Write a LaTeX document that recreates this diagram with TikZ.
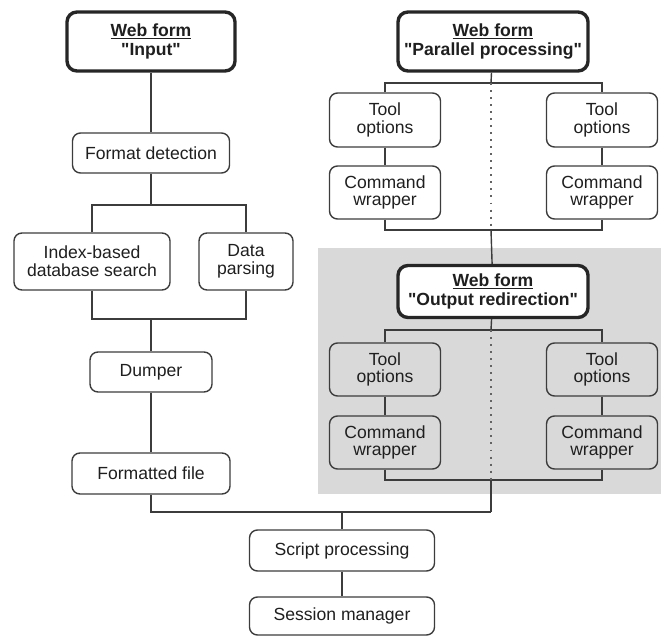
\documentclass[tikz,border=0pt]{standalone}
\usepackage{fontspec}
\setmainfont{Liberation Sans}
\definecolor{lineGray}{HTML}{3C3C3C}
\definecolor{panelGray}{HTML}{D9D9D9}
\tikzstyle{plainBox}=[shape = rectangle, rounded corners = 0.2cm, draw = lineGray, line width = 1pt, fill = white, align = center, inner sep = 0pt, text = black!88, font = \fontsize{12.5}{12.6}\selectfont]
\tikzstyle{webForm}=[plainBox, line width = 2.4pt, rounded corners = 0.25cm, draw = black!85, font = \fontsize{12.5}{14}\selectfont\bfseries]
\tikzstyle{shadedBox}=[plainBox, fill = panelGray]

\begin{document}
\begin{tikzpicture}[x = 0.025cm, y = -0.025cm]
\tikzstyle{linkStyle} = [draw = lineGray, line width = 1pt]
\tikzstyle{dotStyle} = [draw = lineGray!80, line width = 1.1pt, dash pattern = on 1.4pt off 3.6pt]
\useasboundingbox (0,0) rectangle (663,636);
\fill[panelGray] (318,248) rectangle (661,494);
\node[webForm, minimum width = 4.2cm, minimum height = 1.475cm] (input) at (151,41.5) {\underline{Web form}\\\textquotedbl Input\textquotedbl};
\node[webForm, minimum width = 4.75cm, minimum height = 1.475cm] (par) at (493,41.5) {\underline{Web form}\\\textquotedbl Parallel processing\textquotedbl};
\node[webForm, minimum width = 4.75cm, minimum height = 1.3cm] (out) at (493,291.5) {\underline{Web form}\\\textquotedbl Output redirection\textquotedbl};
\node[plainBox, minimum width = 3.925cm, minimum height = 1cm] (fmt) at (151,153) {Format detection};
\node[plainBox, minimum width = 3.9cm, minimum height = 1.425cm] (idx) at (92,261.5) {Index-based\\database search};
\node[plainBox, minimum width = 2.35cm, minimum height = 1.425cm] (parse) at (246,261.5) {Data\\parsing};
\node[plainBox, minimum width = 3.05cm, minimum height = 1cm] (dump) at (151,372) {Dumper};
\node[plainBox, minimum width = 3.95cm, minimum height = 1.025cm] (ffile) at (151,473.5) {Formatted file};
\node[plainBox, minimum width = 2.775cm, minimum height = 1.35cm] (toolA) at (385,120) {Tool\\options};
\node[plainBox, minimum width = 2.775cm, minimum height = 1.325cm] (cmdA) at (385,192.5) {Command\\wrapper};
\node[plainBox, minimum width = 2.775cm, minimum height = 1.35cm] (toolB) at (602,120) {Tool\\options};
\node[plainBox, minimum width = 2.775cm, minimum height = 1.325cm] (cmdB) at (602,192.5) {Command\\wrapper};
\node[shadedBox, minimum width = 2.775cm, minimum height = 1.325cm] (toolC) at (385,369.5) {Tool\\options};
\node[shadedBox, minimum width = 2.775cm, minimum height = 1.325cm] (cmdC) at (385,442.5) {Command\\wrapper};
\node[shadedBox, minimum width = 2.775cm, minimum height = 1.325cm] (toolD) at (602,369.5) {Tool\\options};
\node[shadedBox, minimum width = 2.775cm, minimum height = 1.325cm] (cmdD) at (602,442.5) {Command\\wrapper};
\node[plainBox, minimum width = 4.625cm, minimum height = 1.025cm] (script) at (342,550.5) {Script processing};
\node[plainBox, minimum width = 4.625cm, minimum height = 0.95cm] (session) at (342,616) {Session manager};
\coordinate (fmtSplit) at (151,205);
\coordinate (fmtMerge) at (151,319);
\coordinate (parTop) at (491,83);
\coordinate (parBot) at (491,230);
\coordinate (outTop) at (491,330);
\coordinate (outBot) at (491,480);
\coordinate (mainJoin) at (491,512);
\coordinate (scriptJoin) at (342,512);
\draw[linkStyle] (input) -- (fmt);
\draw[linkStyle] (fmt) -- (fmtSplit);
\draw[linkStyle] (idx) |- (fmtSplit) -| (parse);
\draw[linkStyle] (idx) |- (fmtMerge) -| (parse);
\draw[linkStyle] (fmtMerge) -- (dump);
\draw[linkStyle] (dump) -- (ffile);
\draw[linkStyle] (par) -- (parTop);
\draw[linkStyle] (toolA) |- (parTop) -| (toolB);
\draw[linkStyle] (toolA) -- (cmdA);
\draw[linkStyle] (toolB) -- (cmdB);
\draw[linkStyle] (cmdA) |- (parBot) -| (cmdB);
\draw[dotStyle] (parTop) -- (parBot);
\draw[linkStyle] (parBot) -- (out);
\draw[linkStyle] (out) -- (outTop);
\draw[linkStyle] (toolC) |- (outTop) -| (toolD);
\draw[linkStyle] (toolC) -- (cmdC);
\draw[linkStyle] (toolD) -- (cmdD);
\draw[linkStyle] (cmdC) |- (outBot) -| (cmdD);
\draw[dotStyle] (outTop) -- (outBot);
\draw[linkStyle] (outBot) -- (mainJoin);
\draw[linkStyle] (ffile) |- (mainJoin);
\draw[linkStyle] (scriptJoin) -- (script);
\draw[linkStyle] (script) -- (session);
\end{tikzpicture}
\end{document}
